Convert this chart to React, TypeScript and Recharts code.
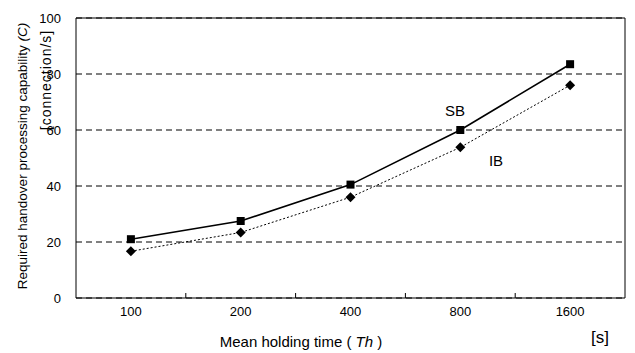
import {
  CartesianGrid,
  Customized,
  Line,
  LineChart,
  ReferenceArea,
  XAxis,
  YAxis,
} from 'recharts';

const holdingTimes = ['100', '200', '400', '800', '1600'];
const sbValues = [21, 27.5, 40.5, 60, 83.5];
const ibValues = [16.7, 23.4, 36, 53.8, 76];
const yTicks = [0, 20, 40, 60, 80, 100];

const data = holdingTimes.map((t, i) => ({ t, sb: sbValues[i], ib: ibValues[i] }));

const FONT = '"Liberation Sans", Arial, sans-serif';
const TICK_MARGIN = 9;

const SquareDot = (props: any) => {
  const { cx, cy } = props;
  if (cx == null || cy == null) return null;
  return <rect x={cx - 4} y={cy - 4} width={8} height={8} fill="#000" />;
};

const DiamondDot = (props: any) => {
  const { cx, cy } = props;
  if (cx == null || cy == null) return null;
  return (
    <polygon
      points={`${cx},${cy - 5} ${cx + 5},${cy} ${cx},${cy + 5} ${cx - 5},${cy}`}
      fill="#000"
    />
  );
};

// category label plus a small inward tick at the right edge of each band
const XTick = (props: any) => {
  const { x, y, payload, index, visibleTicksCount } = props;
  const edge = x + (payload.offset ?? 0);
  const base = y - TICK_MARGIN;
  return (
    <g>
      <text
        x={x}
        y={y}
        dy="0.71em"
        textAnchor="middle"
        fontSize={13}
        fontFamily={FONT}
        fill="#000"
      >
        {payload.value}
      </text>
      {index < visibleTicksCount - 1 && (
        <line x1={edge} x2={edge} y1={base} y2={base - 5} stroke="#000" />
      )}
    </g>
  );
};

const Labels = () => (
  <g fontFamily={FONT} fill="#000">
    <text
      transform="translate(27,156) rotate(-90)"
      textAnchor="middle"
      fontSize={13.5}
    >
      Required handover processing capability <tspan fontStyle="italic">(C)</tspan>
    </text>
    <text
      transform="translate(51,80) rotate(-90)"
      textAnchor="middle"
      fontSize={14}
      letterSpacing={1}
    >
      [connection/s]
    </text>
    <text x={301} y={347} textAnchor="middle" fontSize={15}>
      Mean holding time ( <tspan fontStyle="italic">Th</tspan> )
    </text>
    <text x={600} y={343} textAnchor="middle" fontSize={17}>
      [s]
    </text>
    <text x={455} y={116} textAnchor="middle" fontSize={15}>
      SB
    </text>
    <text x={496} y={166} textAnchor="middle" fontSize={15}>
      IB
    </text>
  </g>
);

export default function App() {
  return (
    <div style={{ position: 'absolute', left: 0, top: 0, background: '#fff' }}>
      <LineChart
        width={635}
        height={353}
        data={data}
        margin={{ top: 18, right: 10, bottom: 25, left: 36 }}
      >
        <CartesianGrid vertical={false} stroke="#000" strokeDasharray="6 4" />
        <XAxis
          dataKey="t"
          scale="band"
          height={30}
          axisLine={false}
          tickLine={false}
          tickSize={0}
          tickMargin={TICK_MARGIN}
          interval={0}
          tick={<XTick />}
        />
        <YAxis
          domain={[0, 100]}
          ticks={yTicks}
          width={40}
          axisLine={false}
          tickLine={false}
          tickSize={0}
          tickMargin={15}
          tick={{ fill: '#000', fontSize: 13, fontFamily: FONT }}
        />
        <ReferenceArea
          x1="100"
          x2="1600"
          y1={0}
          y2={100}
          fill="none"
          stroke="#000"
          strokeWidth={1}
          ifOverflow="visible"
        />
        <Line
          dataKey="sb"
          stroke="#000"
          strokeWidth={1.6}
          dot={<SquareDot />}
          isAnimationActive={false}
        />
        <Line
          dataKey="ib"
          stroke="#000"
          strokeWidth={1}
          strokeDasharray="2 2"
          dot={<DiamondDot />}
          isAnimationActive={false}
        />
        <Customized component={Labels} />
      </LineChart>
    </div>
  );
}
